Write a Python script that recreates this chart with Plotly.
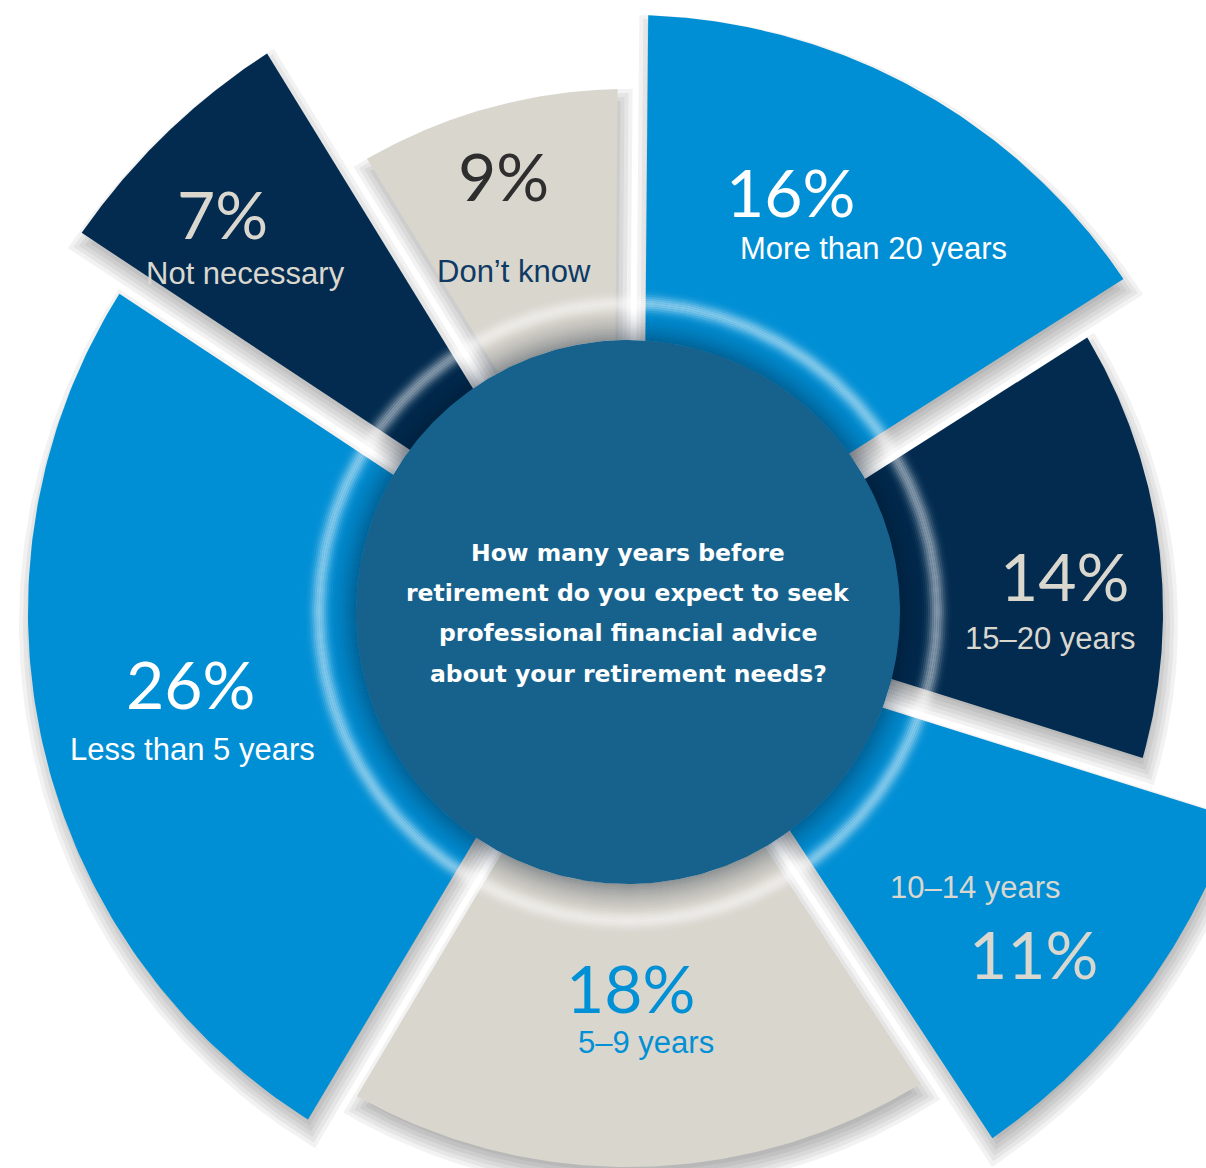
import numpy as np
import plotly.graph_objects as go

# Survey answers, clockwise from 12 o'clock
answers = ["More than 20 years", "15–20 years", "10–14 years", "5–9 years",
           "Less than 5 years", "Not necessary", "Don’t know"]
shares = [16, 14, 11, 18, 26, 7, 9]
question = ["How many years before",
            "retirement do you expect to seek",
            "professional financial advice",
            "about your retirement needs?"]

# ---- styling -------------------------------------------------------------
W, H = 1206, 1168
CX, CY = 628, 612            # hub position in page pixels
BLUE, NAVY, STONE = "#008FD5", "#022B4F", "#D9D6CE"
HUB = "#17628D"
TXT_STONE = "#DAD7CF"

fills = [BLUE, NAVY, BLUE, STONE, BLUE, NAVY, STONE]
reach = [597, 535, 640, 555, 600, 665, 523]     # outer radius of each wedge (px)
HALF_GAP = 15
START = 0.5                                      # degrees clockwise from north
HUB_R = 272

num_pos = [(790, 191), (1064, 575), (1033, 953), (630, 987),
           (190, 683), (222, 213), (503, 175)]
lab_pos = [(873, 248), (1050, 638), (975, 887), (646, 1042),
           (192, 749), (245, 273), (514, 271)]
num_col = ["white", TXT_STONE, TXT_STONE, "#0090D6", "white", TXT_STONE, "#2E2E2E"]
lab_col = ["white", TXT_STONE, TXT_STONE, "#0090D6", "white", TXT_STONE, "#0E3A63"]
q_y = [553, 593, 633, 674]


def px(x, y):
    """page pixel -> data coordinates (origin at hub, y up)"""
    return x - CX, CY - y


def wedge(a0, a1, R, d, dx=0.0, dy=0.0, n=120):
    """sector between angles a0..a1 (deg, clockwise from north) whose
    straight edges are pulled in by d so neighbouring gaps stay parallel"""
    a0r, a1r = np.radians(a0), np.radians(a1)
    delta = np.arcsin(np.clip(d / R, -1, 1))
    t = np.linspace(a0r + delta, a1r - delta, n)
    half = (a1r - a0r) / 2
    mid = (a0r + a1r) / 2
    apex = d / np.sin(half)
    ax, ay = apex * np.sin(mid), apex * np.cos(mid)
    xs = np.concatenate([[ax], R * np.sin(t), [ax]]) + dx
    ys = np.concatenate([[ay], R * np.cos(t), [ay]]) + dy
    return xs, ys


def annulus(r0, r1, n=240):
    t = np.linspace(0, 2 * np.pi, n)
    xs = np.concatenate([r1 * np.sin(t), r0 * np.sin(t[::-1])])
    ys = np.concatenate([r1 * np.cos(t), r0 * np.cos(t[::-1])])
    return xs, ys


def poly(xs, ys, color):
    return go.Scatter(x=xs, y=ys, mode="lines", fill="toself",
                      fillcolor=color, line=dict(width=0),
                      hoverinfo="skip", showlegend=False)


scale = 360.0 / sum(shares)
bounds = START + scale * np.concatenate([[0], np.cumsum(shares)])

fig = go.Figure()

# soft drop shadows under the wedges
for i in range(len(shares)):
    for e in (-8, -4, 0, 4, 8, 12):
        xs, ys = wedge(bounds[i], bounds[i + 1], reach[i] + e, HALF_GAP - e,
                       dx=3, dy=-12)
        fig.add_trace(poly(xs, ys, "rgba(0,0,0,0.05)"))

# the wedges
for i, ans in enumerate(answers):
    xs, ys = wedge(bounds[i], bounds[i + 1], reach[i], HALF_GAP)
    fig.add_trace(go.Scatter(x=xs, y=ys, mode="lines", fill="toself",
                             fillcolor=fills[i], line=dict(width=0),
                             name=ans, hoverinfo="name", showlegend=False))

# bevel around the hub: dark falloff then a bright rim
for k in range(16):
    r0 = HUB_R + 2 * k
    a = 0.34 * (1 - k / 16) ** 1.6
    xs, ys = annulus(r0, r0 + 2)
    fig.add_trace(poly(xs, ys, f"rgba(0,20,40,{a:.3f})"))
for r0 in range(292, 332, 2):
    a = 0.5 * np.exp(-((r0 + 1 - 309) / 7.5) ** 2)
    xs, ys = annulus(r0, r0 + 2)
    fig.add_trace(poly(xs, ys, f"rgba(255,255,255,{a:.3f})"))

# hub
t = np.linspace(0, 2 * np.pi, 361)
fig.add_trace(poly(HUB_R * np.sin(t), HUB_R * np.cos(t), HUB))

annotations = []
for i, s in enumerate(shares):
    x, y = px(*num_pos[i])
    annotations.append(dict(x=x, y=y, text=f"{s}%", showarrow=False,
                            xanchor="center", yanchor="middle",
                            font=dict(family="Lato", size=66, weight=400,
                                      color=num_col[i])))
    x, y = px(*lab_pos[i])
    annotations.append(dict(x=x, y=y, text=answers[i], showarrow=False,
                            xanchor="center", yanchor="middle",
                            font=dict(family="Liberation Sans", size=31,
                                      color=lab_col[i])))
for line, yy in zip(question, q_y):
    x, y = px(CX, yy)
    annotations.append(dict(x=x, y=y, text=f"<b>{line}</b>", showarrow=False,
                            xanchor="center", yanchor="middle",
                            font=dict(family="DejaVu Sans", size=23.5,
                                      color="white")))

fig.update_layout(
    width=W, height=H,
    margin=dict(l=0, r=0, t=0, b=0),
    paper_bgcolor="white", plot_bgcolor="white",
    xaxis=dict(range=[-CX, W - CX], visible=False, fixedrange=True),
    yaxis=dict(range=[CY - H, CY], visible=False, fixedrange=True),
    annotations=annotations,
    showlegend=False,
)

fig.write_html("out.html")
